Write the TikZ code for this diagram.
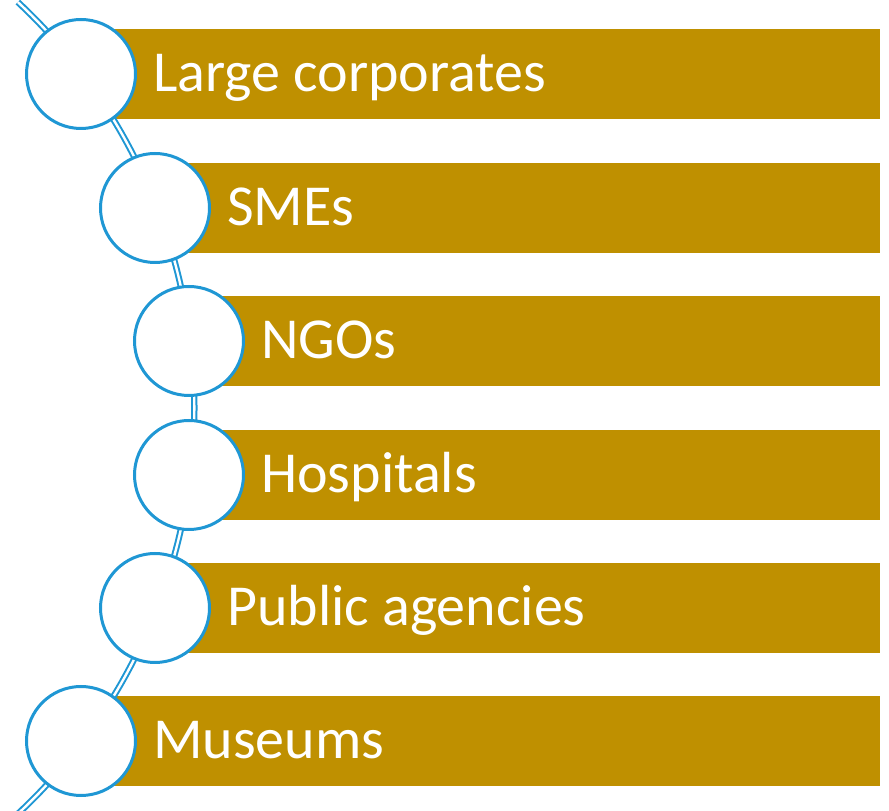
\documentclass[tikz,border=0pt]{standalone}
\usepackage{fontspec}
\setmainfont{Carlito}
\usetikzlibrary{calc}
\definecolor{bargold}{HTML}{BF9000}
\definecolor{ringblue}{HTML}{1F97D4}
\tikzset{
  bar/.style={fill=bargold, draw=none},
  ring/.style={circle, draw=ringblue, line width=3pt, fill=white, minimum size=109pt, inner sep=0pt},
  label/.style={text=white, anchor=base west, inner sep=0pt, font=\fontsize{58}{66}\selectfont},
  conn/.style={draw=ringblue, line width=2pt, double=white, double distance=2.4pt}
}
\begin{document}
\begin{tikzpicture}[x=1pt,y=1pt]
\useasboundingbox (0,0) rectangle (889,811);
% bars
\foreach \i/\cx/\cy in {1/81/737, 2/155/603, 3/189/470, 4/189/336, 5/155/203, 6/81/70}{
  \fill[bar] (\cx,\cy-45) rectangle (880,\cy+45);
}
% connector arc
\coordinate (arcc) at (-360.7,403);
\coordinate (arcstart) at ($(arcc)+(47:555)$);
\begin{scope}
\clip (0,0) rectangle (889,811);
\draw[conn] (arcstart) arc[start angle=47, end angle=-47, radius=555];
\end{scope}
% circles and labels
\foreach \i/\cx/\cy/\txt in {1/81/737/Large corporates, 2/155/603/SMEs, 3/189/470/NGOs, 4/189/336/Hospitals, 5/155/203/Public agencies, 6/81/70/Museums}{
  \node[ring] (c\i) at (\cx,\cy) {};
  \node[label] (t\i) at (\cx+72,\cy-18) {\txt};
}
\end{tikzpicture}
\end{document}
